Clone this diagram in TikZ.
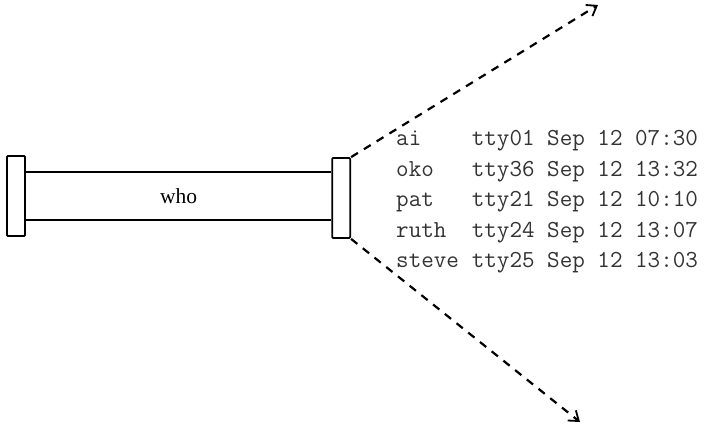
\documentclass[tikz,border=0pt]{standalone}
\usepackage{fontspec}
\setmainfont{Liberation Serif}
\usetikzlibrary{arrows.meta, positioning}

\tikzset{
  endcap/.style={draw, line width=1.8pt, rounded corners=1pt, minimum width=18pt,
    minimum height=80pt, inner sep=0pt},
  pipe/.style={minimum width=305pt, minimum height=47pt, inner sep=0pt,
    font=\fontsize{21.5}{24}\selectfont},
  wall/.style={line width=1.8pt},
  feed/.style={line width=2.2pt, dash pattern=on 8pt off 7pt,
    -{Straight Barb[length=9pt, width=13pt, line width=1.8pt]}},
  listing/.style={inner sep=0pt, text=black!80, font=\fontsize{24.4}{30.5}\selectfont\ttfamily}
}

\begin{document}
\begin{tikzpicture}[x=1pt,y=-1pt]
  \useasboundingbox (0,0) rectangle (706,426);

  % the pipe and its two end caps
  \node[endcap] (leftcap) at (16,196) {};
  \node[pipe, right=0pt of leftcap] (pipe) {who};
  \node[endcap, right=0pt of pipe, yshift=-2pt] (rightcap) {};
  \draw[wall] (pipe.north west) -- (pipe.north east)
              (pipe.south west) -- (pipe.south east);

  % output spreading out of the pipe
  \coordinate (uptip) at (598,5);
  \coordinate (downtip) at (580,422);
  \draw[feed] (rightcap.north east) -- (uptip);
  \draw[feed] (rightcap.south east) -- (downtip);

  \node[listing, anchor=north west] (users) at (396,124) {%
    \begin{tabular}{@{}l@{\hspace{0.525em}}l@{}}
      ai    & tty01 Sep 12 07:30\\
      oko   & tty36 Sep 12 13:32\\
      pat   & tty21 Sep 12 10:10\\
      ruth  & tty24 Sep 12 13:07\\
      steve & tty25 Sep 12 13:03
    \end{tabular}};
\end{tikzpicture}
\end{document}
